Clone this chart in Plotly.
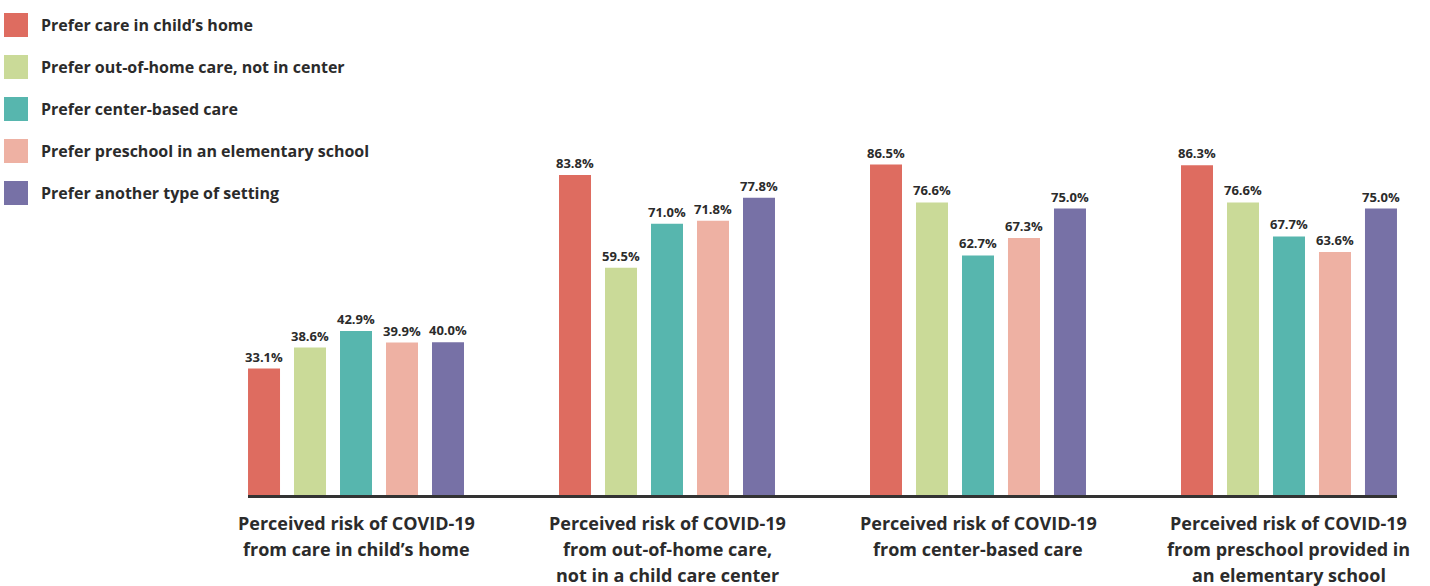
import plotly.graph_objects as go

# Survey categories (x axis), one group of bars each
categories = [
    ["Perceived risk of COVID-19", "from care in child\u2019s home"],
    ["Perceived risk of COVID-19", "from out-of-home care,", "not in a child care center"],
    ["Perceived risk of COVID-19", "from center-based care"],
    ["Perceived risk of COVID-19", "from preschool provided in", "an elementary school"],
]

# Preference groups (series)
series_names = [
    "Prefer care in child\u2019s home",
    "Prefer out-of-home care, not in center",
    "Prefer center-based care",
    "Prefer preschool in an elementary school",
    "Prefer another type of setting",
]
series_colors = ["#DE6C60", "#CADA98", "#57B6AE", "#EEB1A3", "#7771A6"]

# Percent of parents perceiving risk, per preference group
home_pref = [33.1, 83.8, 86.5, 86.3]
out_of_home_pref = [38.6, 59.5, 76.6, 76.6]
center_pref = [42.9, 71.0, 62.7, 67.7]
preschool_pref = [39.9, 71.8, 67.3, 63.6]
other_pref = [40.0, 77.8, 75.0, 75.0]
series_values = [home_pref, out_of_home_pref, center_pref, preschool_pref, other_pref]

FONT = "Open Sans"
TEXT = "#2b2b2b"
W, H = 1430, 586
L, R, T, B = 248, 33, 113, 91

x_idx = list(range(len(categories)))

fig = go.Figure()
for name, color, vals in zip(series_names, series_colors, series_values):
    fig.add_trace(go.Bar(
        x=x_idx, y=vals, name=name,
        marker=dict(color=color, line=dict(width=0)),
        text=[f"{v:.1f}%" for v in vals],
        textposition="outside",
        constraintext="none",
        textfont=dict(family=FONT, size=13, color=TEXT, weight="bold"),
        cliponaxis=False,
        showlegend=False,
        hovertemplate="%{y:.1f}%<extra>" + name + "</extra>",
    ))

plot_w = W - L - R
plot_h = H - T - B

def px_x(px):
    return (px - L) / plot_w

def px_y(py):
    return (H - B - py) / plot_h

shapes = []
annotations = []

# Legend: colored squares with bold labels, stacked top-left
for i, (name, color) in enumerate(zip(series_names, series_colors)):
    cy = 25 + i * 42
    shapes.append(dict(
        type="rect", xref="paper", yref="paper",
        x0=px_x(4), x1=px_x(28), y0=px_y(cy + 12), y1=px_y(cy - 12),
        fillcolor=color, line=dict(width=0), layer="above",
    ))
    annotations.append(dict(
        xref="paper", yref="paper", x=px_x(39), y=px_y(cy),
        xanchor="left", yanchor="middle", showarrow=False,
        text=name, font=dict(family=FONT, size=16, color=TEXT, weight="bold"),
    ))

# Category labels below the axis, one annotation per line
for i, lines in enumerate(categories):
    for j, line in enumerate(lines):
        annotations.append(dict(
            xref="x", yref="paper", x=i, y=0,
            yshift=-(27.5 + j * 26), xanchor="center", yanchor="middle",
            showarrow=False, text=line,
            font=dict(family=FONT, size=18, color=TEXT, weight="bold"),
        ))

fig.update_layout(
    width=W, height=H,
    margin=dict(l=L, r=R, t=T, b=B, autoexpand=False),
    paper_bgcolor="white", plot_bgcolor="white",
    barmode="group", bargap=0.2605, bargroupgap=0.3043,
    xaxis=dict(
        range=[-0.3473, 3.3473], showticklabels=False, ticks="",
        showgrid=False, zeroline=False,
        showline=True, linecolor="#333333", linewidth=2.5,
    ),
    yaxis=dict(range=[0, 100], visible=False, showgrid=False, zeroline=False),
    shapes=shapes,
    annotations=annotations,
    font=dict(family=FONT, color=TEXT),
)

fig.write_html("out.html")
